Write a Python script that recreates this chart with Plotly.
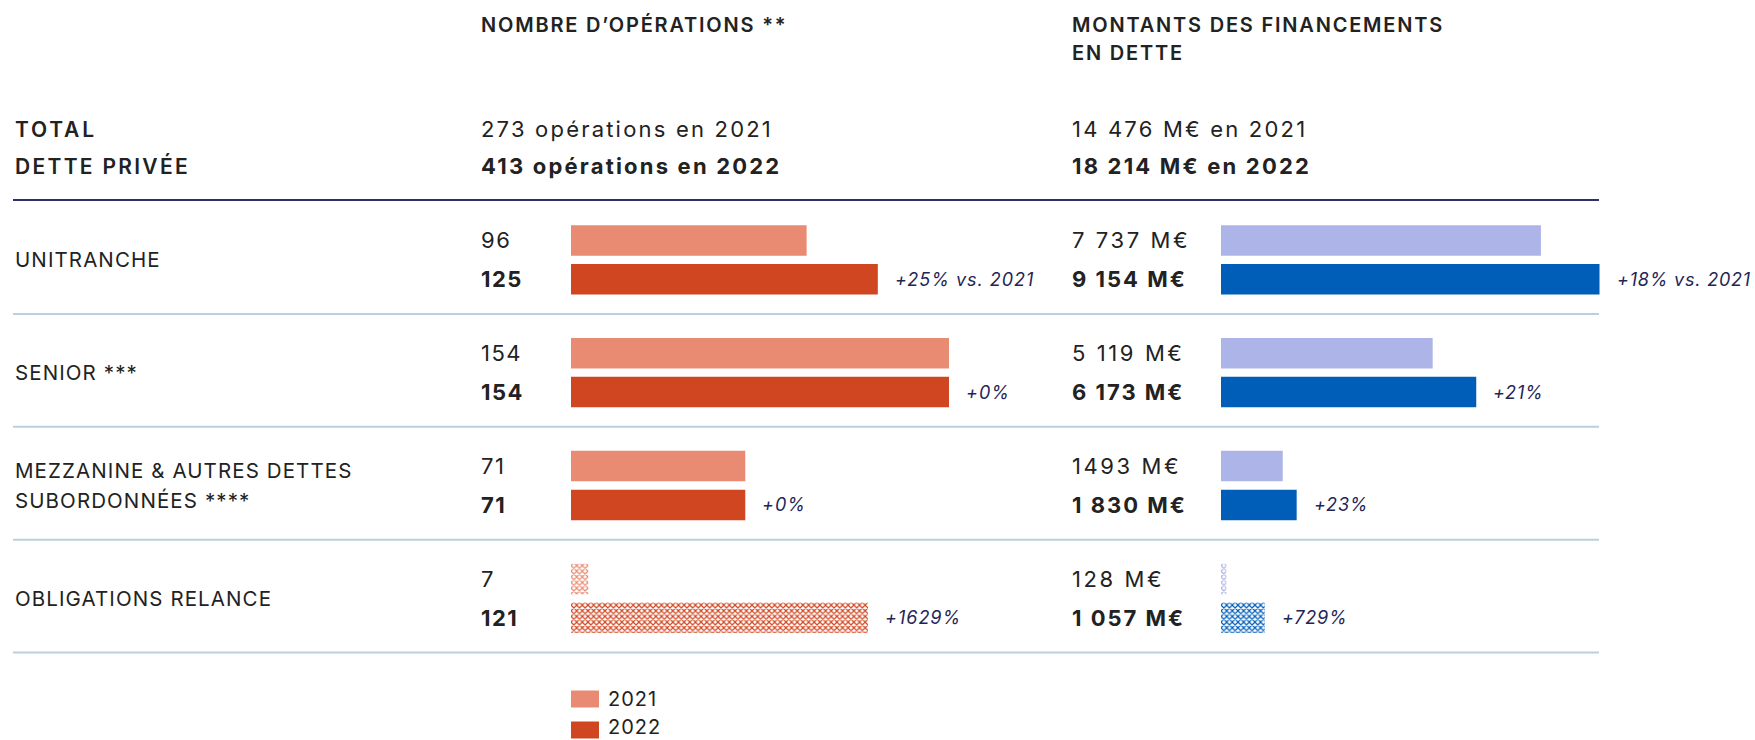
import json
import plotly.graph_objects as go

# ---------------- data ----------------
row_ids = ["unitranche", "senior", "mezzanine", "obligations"]
row_labels = [["UNITRANCHE"], ["SENIOR ***"], ["MEZZANINE & AUTRES DETTES", "SUBORDONNÉES ****"], ["OBLIGATIONS RELANCE"]]
years = ["2021", "2022"]

ops_2021 = [96, 154, 71, 7]
ops_2022 = [125, 154, 71, 121]
ops_text_2021 = ["96", "154", "71", "7"]
ops_text_2022 = ["125", "154", "71", "121"]
ops_change = ["+25% vs. 2021", "+0%", "+0%", "+1629%"]

amt_2021 = [7737, 5119, 1493, 128]
amt_2022 = [9154, 6173, 1830, 1057]
amt_text_2021 = ["7 737 M€", "5 119 M€", "1493 M€", "128 M€"]
amt_text_2022 = ["9 154 M€", "6 173 M€", "1 830 M€", "1 057 M€"]
amt_change = ["+18% vs. 2021", "+21%", "+23%", "+729%"]

bar_patterns = ["", "", "", "x"]

header_ops = "NOMBRE D’OPÉRATIONS **"
header_amt = ["MONTANTS DES FINANCEMENTS", "EN DETTE"]
total_title = ["TOTAL", "DETTE PRIVÉE"]
total_ops = ["273 opérations en 2021", "413 opérations en 2022"]
total_amt = ["14 476 M€ en 2021", "18 214 M€ en 2022"]

# ---------------- style ----------------
W, H = 1755, 740
FONT = "Inter"
TXT = "#222222"
NAVY = "#1f2657"
C_OPS_21, C_OPS_22 = "#e98b73", "#d04621"
C_AMT_21, C_AMT_22 = "#adb4e8", "#005eb8"
SEP = "#bccfdb"
TOPLINE = "#2a3268"


def px(x):
    return x / W


def py(y):
    return 1 - y / H


fig = go.Figure()

for vals, col, name in [(ops_2021, C_OPS_21, "2021"), (ops_2022, C_OPS_22, "2022")]:
    fig.add_trace(go.Bar(
        x=vals, y=row_ids, orientation="h", name=name, xaxis="x", yaxis="y",
        marker=dict(color=col, line=dict(width=0),
                    pattern=dict(shape=bar_patterns, size=4, solidity=0.5, fillmode="replace")),
        showlegend=False, hoverinfo="skip"))
for vals, col, name in [(amt_2021, C_AMT_21, "2021"), (amt_2022, C_AMT_22, "2022")]:
    fig.add_trace(go.Bar(
        x=vals, y=row_ids, orientation="h", name=name, xaxis="x2", yaxis="y",
        marker=dict(color=col, line=dict(width=0),
                    pattern=dict(shape=bar_patterns, size=4, solidity=0.5, fillmode="replace")),
        showlegend=False, hoverinfo="skip"))

ann = []
spacing = []


def add(text, x, y, size, xref="paper", yref="paper", color=TXT, weight=None, italic=False,
        xanchor="left", yshift=0, xshift=0, ls=1.0):
    f = dict(family=FONT, size=size, color=color)
    if weight:
        f["weight"] = weight
    if italic:
        f["style"] = "italic"
    ann.append(dict(text=text, x=x, y=y, xref=xref, yref=yref, xanchor=xanchor, yanchor="middle",
                    showarrow=False, font=f, yshift=yshift, xshift=xshift))
    spacing.append(ls)


XL = 13
XO = 479
XA = 1070

# headers
add(header_ops, px(XO), py(25), 20, weight=600, ls=1.8)
add(header_amt[0], px(XA), py(25), 20, weight=600, ls=1.8)
add(header_amt[1], px(XA), py(53), 20, weight=600, ls=1.8)
add(total_title[0], px(XL), py(129), 21, weight=600, ls=2.8)
add(total_title[1], px(XL), py(166), 21, weight=600, ls=2.3)
add(total_ops[0], px(XO), py(129), 22, ls=2.2)
add(total_ops[1], px(XO), py(166), 22, weight=700, ls=2.2)
add(total_amt[0], px(XA), py(129), 22, ls=2.2)
add(total_amt[1], px(XA), py(166), 22, weight=700, ls=2.2)

OFF = 19.5
for i, rid in enumerate(row_ids):
    lines = row_labels[i]
    n = len(lines)
    for k, line in enumerate(lines):
        add(line, px(XL), rid, 20.5, yref="y", yshift=(n - 1) * 15 - k * 30, ls=1.1)
    add(ops_text_2021[i], px(XO), rid, 22, yref="y", yshift=OFF, ls=1.5)
    add(ops_text_2022[i], px(XO), rid, 22, yref="y", yshift=-OFF, weight=700, ls=1.5)
    add(amt_text_2021[i], px(XA), rid, 22, yref="y", yshift=OFF, ls=2.6)
    add(amt_text_2022[i], px(XA), rid, 22, yref="y", yshift=-OFF, weight=700, ls=2.0)
    add(ops_change[i], ops_2022[i], rid, 18, xref="x", yref="y", yshift=-OFF, xshift=15,
        color=NAVY, italic=True, ls=1.0)
    add(amt_change[i], amt_2022[i], rid, 18, xref="x2", yref="y", yshift=-OFF, xshift=15,
        color=NAVY, italic=True, ls=0.8)

# legend (manual)
LEG_Y = [699, 727]
for k, yr in enumerate(years):
    add(yr, px(606), py(LEG_Y[k]), 20, ls=1.0)

shapes = []
for k, col in enumerate([C_OPS_21, C_OPS_22]):
    yc = [699, 730][k]
    shapes.append(dict(type="rect", xref="paper", yref="paper", x0=px(571), x1=px(599),
                       y0=py(yc - 8.5), y1=py(yc + 8.5), fillcolor=col, line=dict(width=0)))

# separators
shapes.append(dict(type="line", xref="paper", yref="paper", x0=px(13), x1=px(1599), y0=py(200), y1=py(200),
                   line=dict(color=TOPLINE, width=2)))
for i in range(len(row_ids)):
    shapes.append(dict(type="line", xref="paper", yref="y", x0=px(13), x1=px(1599),
                       y0=i + 0.48, y1=i + 0.48, line=dict(color=SEP, width=2)))

pitch = 112.8
c0 = 259.9
top = c0 - pitch / 2
bot = c0 + 3.5 * pitch

fig.update_layout(
    width=W, height=H, margin=dict(l=0, r=0, t=0, b=0),
    paper_bgcolor="white", plot_bgcolor="white",
    barmode="group", bargap=0.312, bargroupgap=0.213,
    xaxis=dict(domain=[px(571), px(1020)], range=[0, 449 / 2.4545], visible=False, fixedrange=True),
    xaxis2=dict(domain=[px(1221), 1.0], range=[0, 534 / 0.04135], visible=False, fixedrange=True,
                anchor="y"),
    yaxis=dict(domain=[py(bot), py(top)], type="category", categoryorder="array",
               categoryarray=row_ids, range=[3.5, -0.5], visible=False, fixedrange=True),
    annotations=ann, shapes=shapes, showlegend=False,
    font=dict(family=FONT, color=TXT),
)

post = (
    "document.body.style.margin='0';document.body.style.overflow='hidden';"
    "var LS=" + json.dumps(spacing) + ";"
    "document.querySelectorAll('g.annotation').forEach(function(g){"
    "var i=+g.getAttribute('data-index');var t=g.querySelector('text');"
    "if(!t||LS[i]===undefined){return;}"
    "var b0=t.getBBox();t.style.letterSpacing=LS[i]+'px';var b1=t.getBBox();"
    "var dx=b0.x-b1.x;var x0=parseFloat(t.getAttribute('x')||'0');"
    "t.setAttribute('x',x0+dx);"
    "t.querySelectorAll('tspan[x]').forEach(function(s){s.setAttribute('x',parseFloat(s.getAttribute('x'))+dx);});"
    "});"
)

fig.write_html("out.html", config={"displayModeBar": False}, post_script=post)
